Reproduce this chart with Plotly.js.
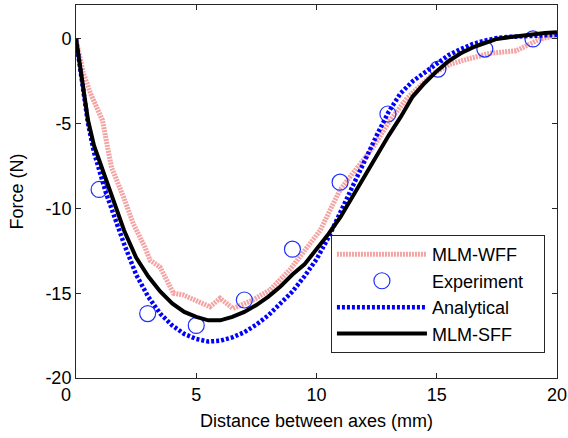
<!DOCTYPE html>
<html>
<head>
<meta charset="utf-8">
<script src="https://cdn.plot.ly/plotly-3.0.1.min.js"></script>
<style>html,body{margin:0;padding:0;background:#fff;}#chart{width:568px;height:438px;}</style>
</head>
<body>
<div id="chart"></div>
<script>
// Series names
const seriesNames = ['MLM-WFF', 'Experiment', 'Analytical', 'MLM-SFF'];

// MLM-WFF (pink)
const wffX = [0, 0.3, 0.6, 1.0, 1.1, 1.3, 1.48, 1.97, 2.38, 2.87, 3.08, 3.49, 4.05, 4.46, 5.16, 5.57, 5.99, 6.53, 7.36, 8.07, 8.9, 9.73, 10.15, 10.98, 12.35, 13.06, 13.76, 14.84, 15.55, 16.26, 17.2, 18.3, 18.75, 19.3, 20];
const wffY = [0, -2.0, -3.2, -4.4, -4.8, -6.3, -7.6, -9.3, -10.9, -12.3, -13.06, -13.45, -15.0, -15.1, -15.5, -15.8, -15.3, -15.9, -15.4, -14.8, -13.6, -12.1, -11.3, -8.9, -6.4, -4.8, -3.5, -2.06, -1.5, -1.2, -0.85, -0.7, -0.4, 0.0, 0.2];

// Experiment (circles)
const expX = [0.96, 2.98, 5.0, 7.0, 9.0, 10.98, 12.97, 15.05, 17.0, 19.0];
const expY = [-8.88, -16.2, -16.9, -15.4, -12.4, -8.45, -4.43, -1.78, -0.6, 0.0];

// Analytical (blue dotted)
const anaX = [0, 0.25, 0.5, 0.75, 1, 1.25, 1.5, 2, 2.5, 3, 3.5, 4, 4.5, 5, 5.5, 6, 6.5, 7, 7.5, 8, 8.5, 9, 9.5, 10, 10.5, 11, 11.5, 12, 12.5, 13, 13.5, 14, 14.5, 15, 15.5, 16, 16.5, 17, 17.5, 18, 18.5, 19, 19.5, 20];
const anaY = [0, -2.6, -5.0, -6.7, -8.0, -9.1, -10.1, -12.1, -13.9, -15.2, -16.2, -16.9, -17.4, -17.7, -17.85, -17.8, -17.6, -17.3, -16.85, -16.3, -15.6, -14.9, -14.0, -13.0, -11.7, -10.2, -8.6, -7.1, -5.7, -4.3, -3.2, -2.5, -2.0, -1.45, -0.95, -0.6, -0.3, -0.1, 0.05, 0.12, 0.16, 0.2, 0.22, 0.24];

// MLM-SFF (black)
const sffX = [0, 0.25, 0.5, 0.75, 1, 1.25, 1.5, 2, 2.5, 3, 3.5, 4, 4.5, 5, 5.5, 6, 6.5, 7, 7.5, 8, 8.5, 9, 9.5, 10, 10.5, 11, 11.5, 12, 12.5, 13, 13.5, 14, 14.5, 15, 15.5, 16, 16.5, 17, 17.5, 18, 18.5, 19, 19.5, 20];
const sffY = [0, -2.5, -4.8, -6.3, -7.3, -8.3, -9.3, -11.3, -12.9, -14.0, -14.9, -15.6, -16.1, -16.4, -16.6, -16.6, -16.4, -16.1, -15.7, -15.2, -14.6, -13.9, -13.3, -12.4, -11.5, -10.5, -9.3, -8.0, -6.8, -5.7, -4.6, -3.4, -2.6, -1.9, -1.3, -0.85, -0.5, -0.25, 0.0, 0.1, 0.2, 0.3, 0.35, 0.4];

const xTickVals = [0, 5, 10, 15, 20];
const xTickText = ['0\u00A0\u00A0\u00A0\u00A0', '5', '10', '15', '20'];
const yTickVals = [-20, -15, -10, -5, 0];
const yTickText = ['-20', '-15', '-10', '-5', '0'];

const FONT = 'Liberation Sans, Arial, sans-serif';
// trailing non-breaking spaces widen the legend box to match the reference frame
const pad = s => s + '\u00A0\u00A0\u00A0';

const traces = [
  {x: wffX, y: wffY, name: pad(seriesNames[0]), mode: 'lines', type: 'scatter',
   line: {color: '#f4a3a3', width: 5, dash: '2px,1px'}},
  {x: expX, y: expY, name: pad(seriesNames[1]), mode: 'markers', type: 'scatter',
   marker: {symbol: 'circle-open', size: 16, color: '#1f2fff', line: {width: 1.2}}},
  {x: anaX, y: anaY, name: pad(seriesNames[2]), mode: 'lines', type: 'scatter',
   line: {color: '#0000ff', width: 4.5, dash: '3px,2px'}},
  {x: sffX, y: sffY, name: pad(seriesNames[3]), mode: 'lines', type: 'scatter',
   line: {color: '#000000', width: 4}}
];

const axisBase = {
  showline: true, linecolor: '#262626', linewidth: 1, mirror: 'ticks',
  ticks: 'inside', ticklen: 5, tickcolor: '#262626', tickwidth: 1,
  showgrid: false, zeroline: false,
  tickfont: {family: FONT, size: 18, color: '#000'}
};

const layout = {
  width: 568, height: 438,
  margin: {l: 76, r: 11, t: 5, b: 60},
  paper_bgcolor: '#fff', plot_bgcolor: '#fff',
  showlegend: true,
  font: {family: FONT, size: 18, color: '#000'},
  xaxis: Object.assign({}, axisBase, {
    range: [0, 20], tickmode: 'array', tickvals: xTickVals, ticktext: xTickText,
    title: {text: 'Distance between axes (mm)', font: {family: FONT, size: 18, color: '#000'}, standoff: 10}
  }),
  yaxis: Object.assign({}, axisBase, {
    range: [-20, 2], tickmode: 'array', tickvals: yTickVals, ticktext: yTickText,
    title: {text: 'Force (N)', font: {family: FONT, size: 18, color: '#000'}, standoff: 17}
  }),
  legend: {
    x: 0.53, y: 0.383, xanchor: 'left', yanchor: 'top',
    bgcolor: '#fff', bordercolor: '#262626', borderwidth: 1,
    font: {family: FONT, size: 18, color: '#000'},
    itemwidth: 90
  }
};

Plotly.newPlot('chart', traces, layout, {displayModeBar: false, staticPlot: true});
</script>
</body>
</html>
